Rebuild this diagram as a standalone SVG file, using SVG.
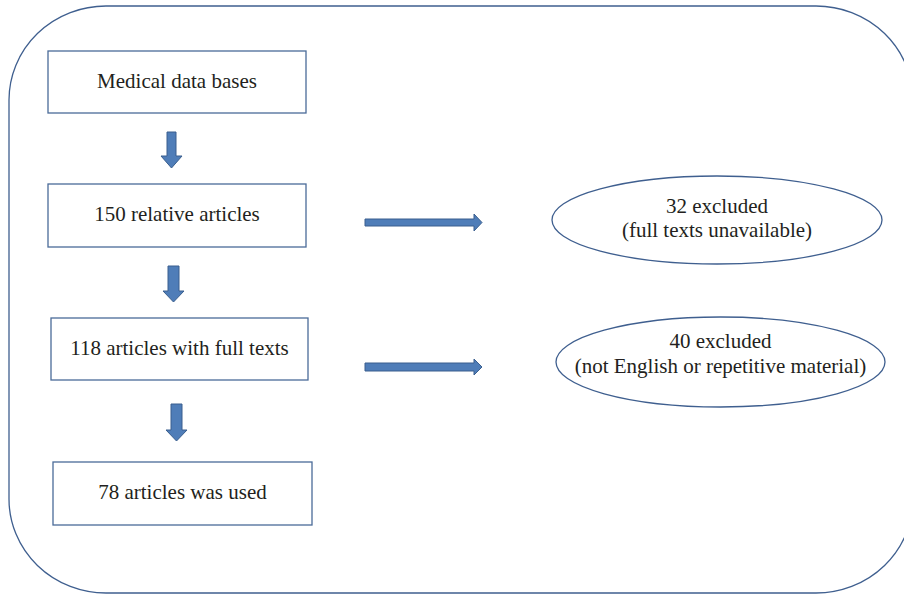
<svg xmlns="http://www.w3.org/2000/svg" width="904" height="595" viewBox="0 0 904 595">
<style>
.box{fill:#fff;stroke:#4a6b99;stroke-width:1.3}
.ell{fill:#fff;stroke:#3f5f8f;stroke-width:1.3}
.arr{fill:#4f7db8;stroke:#3a5f8e;stroke-width:1}
text{font-family:"Liberation Serif","Times New Roman",serif;font-size:21px;fill:#231f20;text-anchor:middle}
</style>
<rect x="9" y="6" width="904" height="587" rx="97" ry="94" fill="#fff" stroke="#3f5f8f" stroke-width="1.3"/>
<g id="n1"><rect class="box" x="48" y="51" width="258" height="62"/><text x="177" y="88">Medical data bases</text></g>
<g id="n2"><rect class="box" x="48" y="184" width="258" height="63"/><text x="177" y="221">150 relative articles</text></g>
<g id="n3"><rect class="box" x="51" y="318" width="257" height="62"/><text x="179.5" y="355">118 articles with full texts</text></g>
<g id="n4"><rect class="box" x="53" y="462" width="259" height="63"/><text x="182.5" y="499">78 articles was used</text></g>
<g id="e1"><ellipse class="ell" cx="717" cy="220" rx="165" ry="44"/><text x="717" y="213">32 excluded</text><text x="717" y="237">(full texts unavailable)</text></g>
<g id="e2"><ellipse class="ell" cx="720.5" cy="362" rx="164.5" ry="45"/><text x="720.5" y="348">40 excluded</text><text x="720.5" y="373">(not English or repetitive material)</text></g>
<g id="connectors">
<polygon class="arr" points="167,132 176,132 176,156 182,156 171.5,168 161,156 167,156"/>
<polygon class="arr" points="168,266 179,266 179,291 184,291 173.5,302 163,291 168,291"/>
<polygon class="arr" points="171,404 182,404 182,430 187,430 176.5,441 166,430 171,430"/>
<polygon class="arr" points="365,219 474,219 474,214 482,222.5 474,231 474,226 365,226"/>
<polygon class="arr" points="365,363 474,363 474,359 482,367 474,375 474,371 365,371"/>
</g>
</svg>
